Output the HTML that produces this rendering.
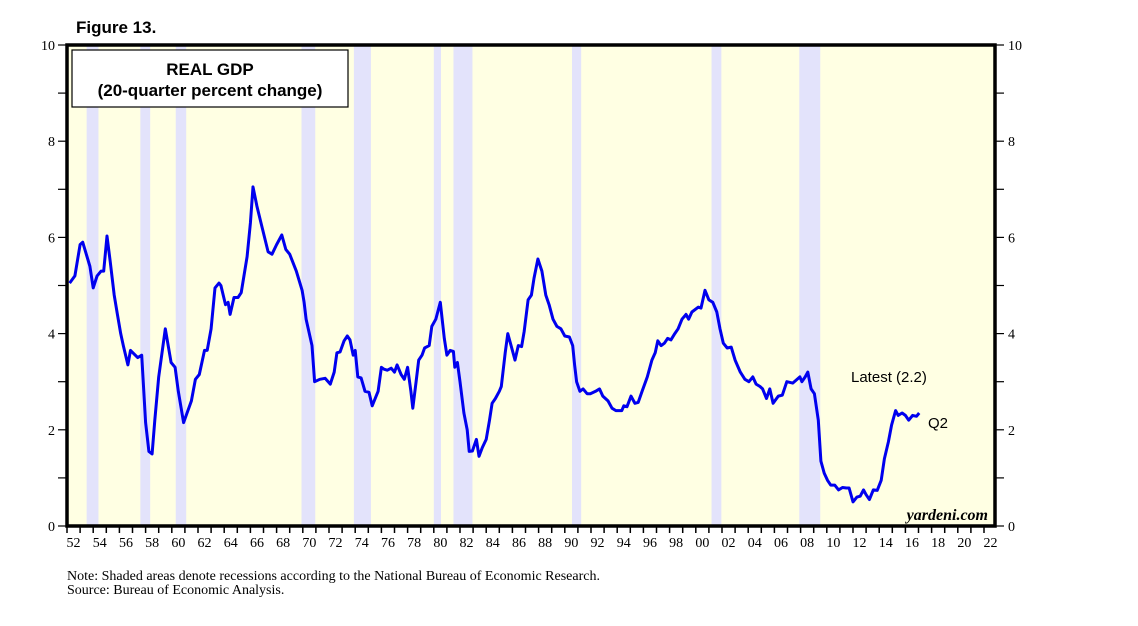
<!DOCTYPE html>
<html><head><meta charset="utf-8"><style>
body{margin:0;background:#fff;width:1138px;height:626px;overflow:hidden}
svg{display:block}
.s{font-family:"Liberation Serif",serif}
.a{font-family:"Liberation Sans",sans-serif}
</style></head><body>
<svg id="c" width="1138" height="626">
<text x="76" y="33" class="a" font-size="17" font-weight="bold">Figure 13.</text>
<rect x="67" y="45" width="928" height="481" fill="#ffffe3"/>
<g id="rec"></g>
<g id="axes"></g>
<rect x="72" y="50" width="276" height="57" fill="#fff" stroke="#000" stroke-width="1.2"/>
<text x="210" y="75" text-anchor="middle" class="a" font-size="17" font-weight="bold">REAL GDP</text>
<text x="210" y="96" text-anchor="middle" class="a" font-size="17" font-weight="bold">(20-quarter percent change)</text>
<path id="line" fill="none" stroke="#0000ee" stroke-width="3" stroke-linejoin="round"/>
<text x="851" y="382" class="a" font-size="15">Latest (2.2)</text>
<text x="928" y="428" class="a" font-size="15">Q2</text>
<text x="988" y="520" text-anchor="end" class="s" font-size="16" font-weight="bold" font-style="italic">yardeni.com</text>
<rect x="67" y="45" width="928" height="481" fill="none" stroke="#000" stroke-width="3.5"/>
<text x="67" y="580" class="s" font-size="14">Note: Shaded areas denote recessions according to the National Bureau of Economic Research.</text>
<text x="67" y="594" class="s" font-size="14">Source: Bureau of Economic Analysis.</text>
</svg>
<script>
const recStart=[1953.5,1957.6,1960.3,1969.9,1973.9,1980.0,1981.5,1990.55,2001.2,2007.9];
const recEnd=[1954.4,1958.35,1961.1,1970.95,1975.2,1980.55,1982.95,1991.25,2001.95,2009.5];
const years=[1952.2,1952.6,1953.0,1953.2,1953.75,1954.0,1954.3,1954.6,1954.8,1955.05,1955.3,1955.6,1955.85,1956.1,1956.3,1956.65,1956.85,1957.4,1957.7,1958.0,1958.25,1958.5,1958.7,1959.0,1959.5,1959.95,1960.25,1960.5,1960.9,1961.5,1961.8,1962.1,1962.5,1962.7,1963.0,1963.3,1963.6,1963.75,1964.1,1964.3,1964.45,1964.75,1965.05,1965.3,1965.75,1966.0,1966.2,1966.5,1966.9,1967.35,1967.65,1968.0,1968.4,1968.7,1969.0,1969.5,1969.95,1970.1,1970.25,1970.7,1970.9,1971.3,1971.7,1972.1,1972.4,1972.6,1972.85,1973.15,1973.4,1973.6,1973.85,1974.0,1974.2,1974.45,1974.75,1975.05,1975.3,1975.75,1976.0,1976.2,1976.45,1976.75,1977.0,1977.2,1977.5,1977.75,1978.0,1978.25,1978.4,1978.65,1978.85,1979.1,1979.3,1979.65,1979.85,1980.15,1980.5,1980.8,1981.0,1981.25,1981.5,1981.6,1981.8,1982.0,1982.3,1982.55,1982.7,1982.95,1983.25,1983.45,1983.7,1984.0,1984.25,1984.45,1984.7,1985.0,1985.15,1985.45,1985.65,1985.9,1986.2,1986.45,1986.7,1986.9,1987.2,1987.45,1987.65,1987.95,1988.25,1988.55,1988.8,1989.1,1989.4,1989.7,1990.0,1990.35,1990.6,1990.75,1990.9,1991.15,1991.4,1991.7,1991.95,1992.35,1992.65,1992.9,1993.3,1993.6,1993.9,1994.1,1994.35,1994.5,1994.75,1995.05,1995.35,1995.6,1995.9,1996.3,1996.65,1996.9,1997.1,1997.35,1997.6,1997.85,1998.1,1998.4,1998.65,1998.95,1999.25,1999.45,1999.7,2000.2,2000.4,2000.7,2001.0,2001.3,2001.6,2001.85,2002.1,2002.4,2002.7,2003.0,2003.4,2003.75,2004.05,2004.35,2004.6,2004.9,2005.1,2005.4,2005.65,2005.9,2006.3,2006.6,2006.95,2007.4,2007.95,2008.1,2008.35,2008.55,2008.8,2009.05,2009.35,2009.55,2009.8,2010.05,2010.3,2010.6,2010.9,2011.2,2011.5,2011.7,2012.0,2012.3,2012.55,2012.8,2013.0,2013.25,2013.55,2013.85,2014.15,2014.4,2014.7,2014.95,2015.25,2015.45,2015.75,2016.0,2016.25,2016.55,2016.85,2017.05];
const values=[5.05,5.2,5.85,5.9,5.4,4.95,5.2,5.3,5.3,6.03,5.5,4.8,4.4,4.0,3.75,3.35,3.65,3.5,3.55,2.15,1.55,1.5,2.2,3.1,4.1,3.4,3.3,2.8,2.15,2.6,3.05,3.15,3.65,3.65,4.1,4.95,5.05,5.0,4.6,4.65,4.4,4.75,4.75,4.85,5.6,6.3,7.05,6.65,6.2,5.7,5.65,5.85,6.05,5.75,5.65,5.3,4.9,4.65,4.3,3.75,3.0,3.05,3.07,2.95,3.2,3.6,3.62,3.85,3.95,3.87,3.55,3.65,3.1,3.08,2.8,2.78,2.5,2.8,3.3,3.26,3.24,3.28,3.2,3.35,3.15,3.05,3.3,2.8,2.45,3.0,3.45,3.55,3.7,3.75,4.15,4.3,4.65,3.9,3.55,3.65,3.63,3.3,3.4,3.0,2.35,2.0,1.55,1.56,1.8,1.45,1.63,1.8,2.2,2.55,2.65,2.8,2.9,3.6,4.0,3.75,3.45,3.75,3.73,4.05,4.7,4.8,5.15,5.55,5.3,4.8,4.6,4.3,4.15,4.1,3.95,3.93,3.75,3.35,3.0,2.8,2.85,2.75,2.75,2.8,2.85,2.7,2.6,2.45,2.4,2.4,2.4,2.5,2.48,2.7,2.55,2.57,2.8,3.1,3.45,3.6,3.85,3.75,3.8,3.9,3.87,4.0,4.1,4.3,4.4,4.3,4.45,4.55,4.53,4.9,4.7,4.65,4.45,4.1,3.8,3.7,3.72,3.45,3.2,3.05,3.0,3.1,2.95,2.9,2.85,2.65,2.85,2.55,2.7,2.72,3.0,2.97,3.1,3.0,3.1,3.2,2.85,2.75,2.2,1.35,1.1,0.95,0.85,0.85,0.75,0.8,0.79,0.79,0.5,0.6,0.62,0.75,0.65,0.55,0.75,0.74,0.95,1.4,1.75,2.1,2.4,2.3,2.35,2.3,2.2,2.3,2.28,2.35,2.2,2.1,2.15];
const yTicks=[0,2,4,6,8,10];
const xLabels=["52","54","56","58","60","62","64","66","68","70","72","74","76","78","80","82","84","86","88","90","92","94","96","98","00","02","04","06","08","10","12","14","16","18","20","22"];
const NS='http://www.w3.org/2000/svg';
const X0=67,X1=995,Y0=526,Y1=45;
function xs(yr){return X0+(yr-1952)*13.1;}
function ys(v){return Y0-(v/10)*(Y0-Y1);}
function mk(tag,attrs,parent){const e=document.createElementNS(NS,tag);for(const k in attrs)e.setAttribute(k,attrs[k]);parent.appendChild(e);return e;}
const rec=document.getElementById('rec');
recStart.forEach((s,i)=>{
 const r=mk('rect',{x:xs(s),y:Y1,width:xs(recEnd[i])-xs(s),height:Y0-Y1,fill:'#e3e3fb'},rec);
 
 
});
const ax=document.getElementById('axes');
for(let v=0;v<=10;v++){
 const y=ys(v);
 const t1=mk('line',{x1:X0-9,x2:X0,y1:y,y2:y,stroke:'#000','stroke-width':1.2},ax);
 
 
 const t2=mk('line',{x1:X1,x2:X1+9,y1:y,y2:y,stroke:'#000','stroke-width':1.2},ax);
 
 
}
yTicks.forEach(v=>{
 const y=ys(v)+5;
 const l=mk('text',{x:X0-12,y:y,'text-anchor':'end','font-size':14,'class':'s'},ax);l.textContent=v;
 
 
 const r=mk('text',{x:X1+13,y:y,'font-size':14,'class':'s'},ax);r.textContent=v;
 
 
});
for(let yr=1952;yr<=2022;yr++){
 const t=mk('line',{x1:xs(yr),x2:xs(yr),y1:Y0,y2:Y0+7,stroke:'#000','stroke-width':1.5},ax);
 
 
}
xLabels.forEach((lab,i)=>{
 const t=mk('text',{x:xs(1952+2*i+0.5),y:Y0+21,'text-anchor':'middle','font-size':14,'class':'s'},ax);t.textContent=lab;
 
 
});
let d='';
years.forEach((yr,i)=>{d+=(i?'L':'M')+xs(yr).toFixed(1)+','+ys(values[i]).toFixed(1);});
document.getElementById('line').setAttribute('d',d);
</script>
</body></html>
